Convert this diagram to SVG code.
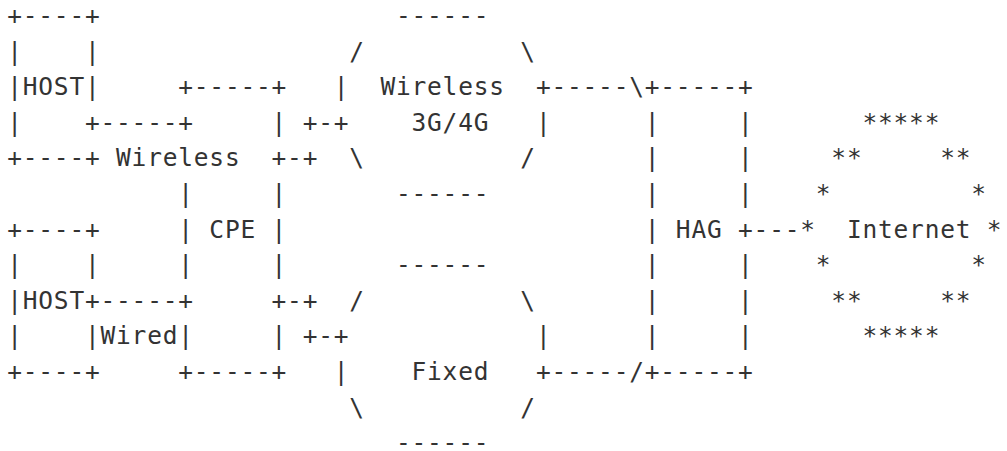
<svg xmlns="http://www.w3.org/2000/svg" width="1007" height="451" viewBox="0 0 1007 451" xml:space="preserve">
<style>
  text { font-family: "DejaVu Sans Mono", "Liberation Mono", monospace; font-size: 24.5px; letter-spacing: 0.8px; fill: #333; }
</style>
<rect width="1007" height="451" fill="#fff"/>
<!-- grid: column c starts at x = 7.2 + 15.55c, row r baseline at y = 24 + 35.6r -->
<g id="host-1">
  <text x="7.2" y="24">+----+</text>
  <text x="7.2" y="59.6">|</text><text x="84.95" y="59.6">|</text>
  <text x="7.2" y="95.2">|HOST|</text>
  <text x="7.2" y="130.8">|</text><text x="84.95" y="130.8">+</text>
  <text x="7.2" y="166.4">+----+</text>
</g>
<g id="host-2">
  <text x="7.2" y="237.6">+----+</text>
  <text x="7.2" y="273.2">|</text><text x="84.95" y="273.2">|</text>
  <text x="7.2" y="308.8">|HOST+</text>
  <text x="7.2" y="344.4">|</text><text x="84.95" y="344.4">|</text>
  <text x="7.2" y="380">+----+</text>
</g>
<g id="cpe">
  <text x="178.25" y="95.2">+-----+</text>
  <text x="271.55" y="130.8">|</text>
  <text x="271.55" y="166.4">+</text>
  <text x="178.25" y="202">|</text><text x="271.55" y="202">|</text>
  <text x="178.25" y="237.6">|</text><text x="209.35" y="237.6">CPE</text><text x="271.55" y="237.6">|</text>
  <text x="178.25" y="273.2">|</text><text x="271.55" y="273.2">|</text>
  <text x="271.55" y="308.8">+</text>
  <text x="178.25" y="344.4">|</text><text x="271.55" y="344.4">|</text>
  <text x="178.25" y="380">+-----+</text>
</g>
<g id="wireless-3g-4g">
  <text x="395.95" y="24">------</text>
  <text x="349.3" y="59.6">/</text><text x="520.35" y="59.6">\</text>
  <text x="333.75" y="95.2">|</text><text x="380.4" y="95.2">Wireless</text><text x="535.9" y="95.2">+</text>
  <text x="411.5" y="130.8">3G/4G</text><text x="535.9" y="130.8">|</text>
  <text x="349.3" y="166.4">\</text><text x="520.35" y="166.4">/</text>
  <text x="395.95" y="202">------</text>
</g>
<g id="fixed">
  <text x="395.95" y="273.2">------</text>
  <text x="349.3" y="308.8">/</text><text x="520.35" y="308.8">\</text>
  <text x="535.9" y="344.4">|</text>
  <text x="333.75" y="380">|</text><text x="411.5" y="380">Fixed</text><text x="535.9" y="380">+</text>
  <text x="349.3" y="415.6">\</text><text x="520.35" y="415.6">/</text>
  <text x="395.95" y="450.6">------</text>
</g>
<g id="hag">
  <text x="644.75" y="95.2">+-----+</text>
  <text x="644.75" y="130.8">|</text><text x="738.05" y="130.8">|</text>
  <text x="644.75" y="166.4">|</text><text x="738.05" y="166.4">|</text>
  <text x="644.75" y="202">|</text><text x="738.05" y="202">|</text>
  <text x="644.75" y="237.6">|</text><text x="675.85" y="237.6">HAG</text>
  <text x="644.75" y="273.2">|</text><text x="738.05" y="273.2">|</text>
  <text x="644.75" y="308.8">|</text><text x="738.05" y="308.8">|</text>
  <text x="644.75" y="344.4">|</text><text x="738.05" y="344.4">|</text>
  <text x="644.75" y="380">+-----+</text>
</g>
<g id="internet">
  <text x="862.45" y="130.8">*****</text>
  <text x="831.35" y="166.4">**</text><text x="940.2" y="166.4">**</text>
  <text x="815.8" y="202">*</text><text x="971.3" y="202">*</text>
  <text x="800.25" y="237.6">*</text><text x="846.9" y="237.6">Internet</text><text x="986.85" y="237.6">*</text>
  <text x="815.8" y="273.2">*</text><text x="971.3" y="273.2">*</text>
  <text x="831.35" y="308.8">**</text><text x="940.2" y="308.8">**</text>
  <text x="862.45" y="344.4">*****</text>
</g>
<g id="connectors">
  <!-- host links into the CPE -->
  <text x="100.5" y="130.8">-----+</text>
  <text x="116.05" y="166.4">Wireless</text>
  <text x="100.5" y="308.8">-----+</text>
  <text x="100.5" y="344.4">Wired</text>
  <!-- CPE uplinks to the access clouds -->
  <text x="287.1" y="166.4">-+</text>
  <text x="302.65" y="130.8">+-+</text>
  <text x="287.1" y="308.8">-+</text>
  <text x="302.65" y="344.4">+-+</text>
  <!-- access clouds to the HAG -->
  <text x="551.45" y="95.2">-----\</text>
  <text x="551.45" y="380">-----/</text>
  <!-- HAG to the Internet -->
  <text x="738.05" y="237.6">+---</text>
</g>
</svg>
